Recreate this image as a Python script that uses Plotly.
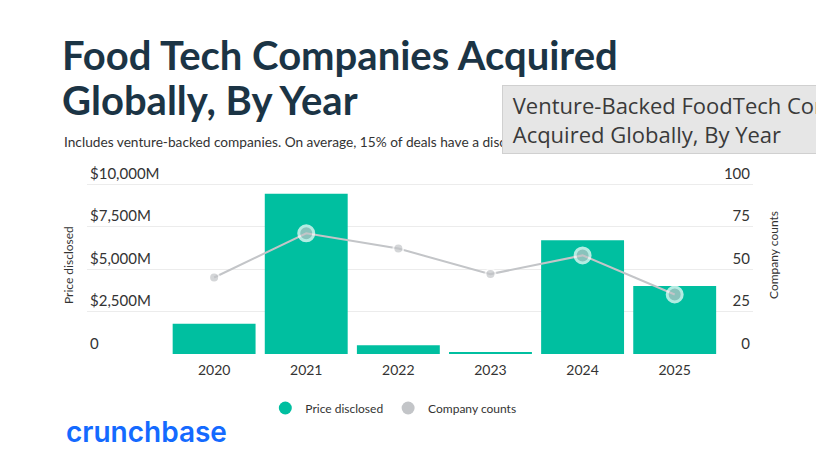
import plotly.graph_objects as go

# datos
years = [2020, 2021, 2022, 2023, 2024, 2025]
price_disclosed = [1780, 9430, 510, 80, 6690, 4000]      # millones USD
company_counts = [45, 71, 62, 47, 58, 35]
price_ticks = [0, 2500, 5000, 7500, 10000]
price_labels = ["0", "$2,500M", "$5,000M", "$7,500M", "$10,000M"]
count_ticks = [0, 25, 50, 75, 100]

W, H = 816, 462
TEAL = "#00bfa0"
GRAY = "#c3c5c8"
TXT = "#333333"
FONT = "Lato"


def px(x):
    return x / W


def py(y):
    return 1 - y / H


fig = go.Figure()

fig.add_trace(go.Bar(
    x=years, y=price_disclosed, width=0.9,
    marker=dict(color=TEAL, line=dict(width=0)),
    showlegend=False, yaxis="y",
))

fig.add_trace(go.Scatter(
    x=years, y=company_counts, mode="lines+markers", yaxis="y2",
    line=dict(color=GRAY, width=2),
    marker=dict(color=GRAY, size=[10, 15, 10, 10, 15, 15],
                line=dict(color="white", width=[2, 3, 2, 2, 3, 3])),
    showlegend=False,
))

# trazas solo para la leyenda (circulos)
fig.add_trace(go.Scatter(x=[None], y=[None], mode="markers", name="Price disclosed",
                         marker=dict(color=TEAL, size=13)))
fig.add_trace(go.Scatter(x=[None], y=[None], mode="markers", name="Company counts",
                         marker=dict(color=GRAY, size=13)))

# 170 px por 10000 -> se amplia el rango para que la etiqueta de arriba quede dentro
fig.update_layout(
    width=W, height=H,
    margin=dict(l=0, r=0, t=0, b=0),
    paper_bgcolor="white", plot_bgcolor="white",
    font=dict(family=FONT, color=TXT, size=13),
    xaxis=dict(
        domain=[px(87), px(753)], range=[2018.62, 2025.85],
        tickvals=years, ticktext=[str(y) for y in years],
        showgrid=False, zeroline=False, showline=False, ticks="",
        tickfont=dict(size=14, color=TXT), ticklabelstandoff=6,
    ),
    yaxis=dict(
        domain=[py(354), py(354 - 204)], range=[0, 12000],
        tickvals=price_ticks, ticktext=price_labels,
        ticklabelposition="inside top",
        gridcolor="#ececec", gridwidth=1, zeroline=False, showline=False,
        tickfont=dict(size=15, color=TXT),
    ),
    yaxis2=dict(
        overlaying="y", side="right", range=[0, 120],
        tickvals=count_ticks, ticklabelposition="inside top",
        showgrid=False, zeroline=False, showline=False,
        tickfont=dict(size=15, color=TXT),
    ),
    legend=dict(orientation="h", x=0.482, xanchor="center", y=py(408), yanchor="middle",
                font=dict(size=12, color=TXT), itemwidth=30),
)

annots = [
    dict(text="<b>Food Tech Companies Acquired</b>", x=px(60), y=py(55), size=40, color="#1b3445"),
    dict(text="<b>Globally, By Year</b>", x=px(60), y=py(100), size=40, color="#1b3445"),
    dict(text="Includes venture-backed companies. On average, 15% of deals have a disclosed price.",
         x=px(62), y=py(141), size=13.7, color=TXT),
]
for a in annots:
    fig.add_annotation(text=a["text"], x=a["x"], y=a["y"], xref="paper", yref="paper",
                       xanchor="left", yanchor="middle", showarrow=False,
                       font=dict(size=a["size"], color=a["color"], family=FONT))

# logo
fig.add_annotation(text="crunchbase", x=px(64), y=py(432), xref="paper", yref="paper",
                   xanchor="left", yanchor="middle", showarrow=False,
                   font=dict(size=28, color="#146aff", family="Inter", weight=600))

# titulos de ejes
fig.add_annotation(text="Price disclosed", x=px(68), y=py(265), xref="paper", yref="paper",
                   xanchor="center", yanchor="middle",
                   textangle=-90, showarrow=False, font=dict(size=12, color=TXT))
fig.add_annotation(text="Company counts", x=px(773), y=py(255), xref="paper", yref="paper",
                   xanchor="center", yanchor="middle",
                   textangle=-90, showarrow=False, font=dict(size=12, color=TXT))

# tooltip del navegador
fig.add_annotation(text="&nbsp;Venture-Backed FoodTech Companies<br>&nbsp;Acquired Globally, By Year",
                   x=px(502), y=py(85), xref="paper", yref="paper",
                   xanchor="left", yanchor="top", align="left", showarrow=False,
                   bgcolor="#e6e6e6", bordercolor="#d0d0d0", borderwidth=1, borderpad=4,
                   font=dict(size=22, color="#3a3a3a", family="Open Sans"))

fig.write_html("out.html", config={"displayModeBar": False},
               post_script="document.body.style.margin='0';")
